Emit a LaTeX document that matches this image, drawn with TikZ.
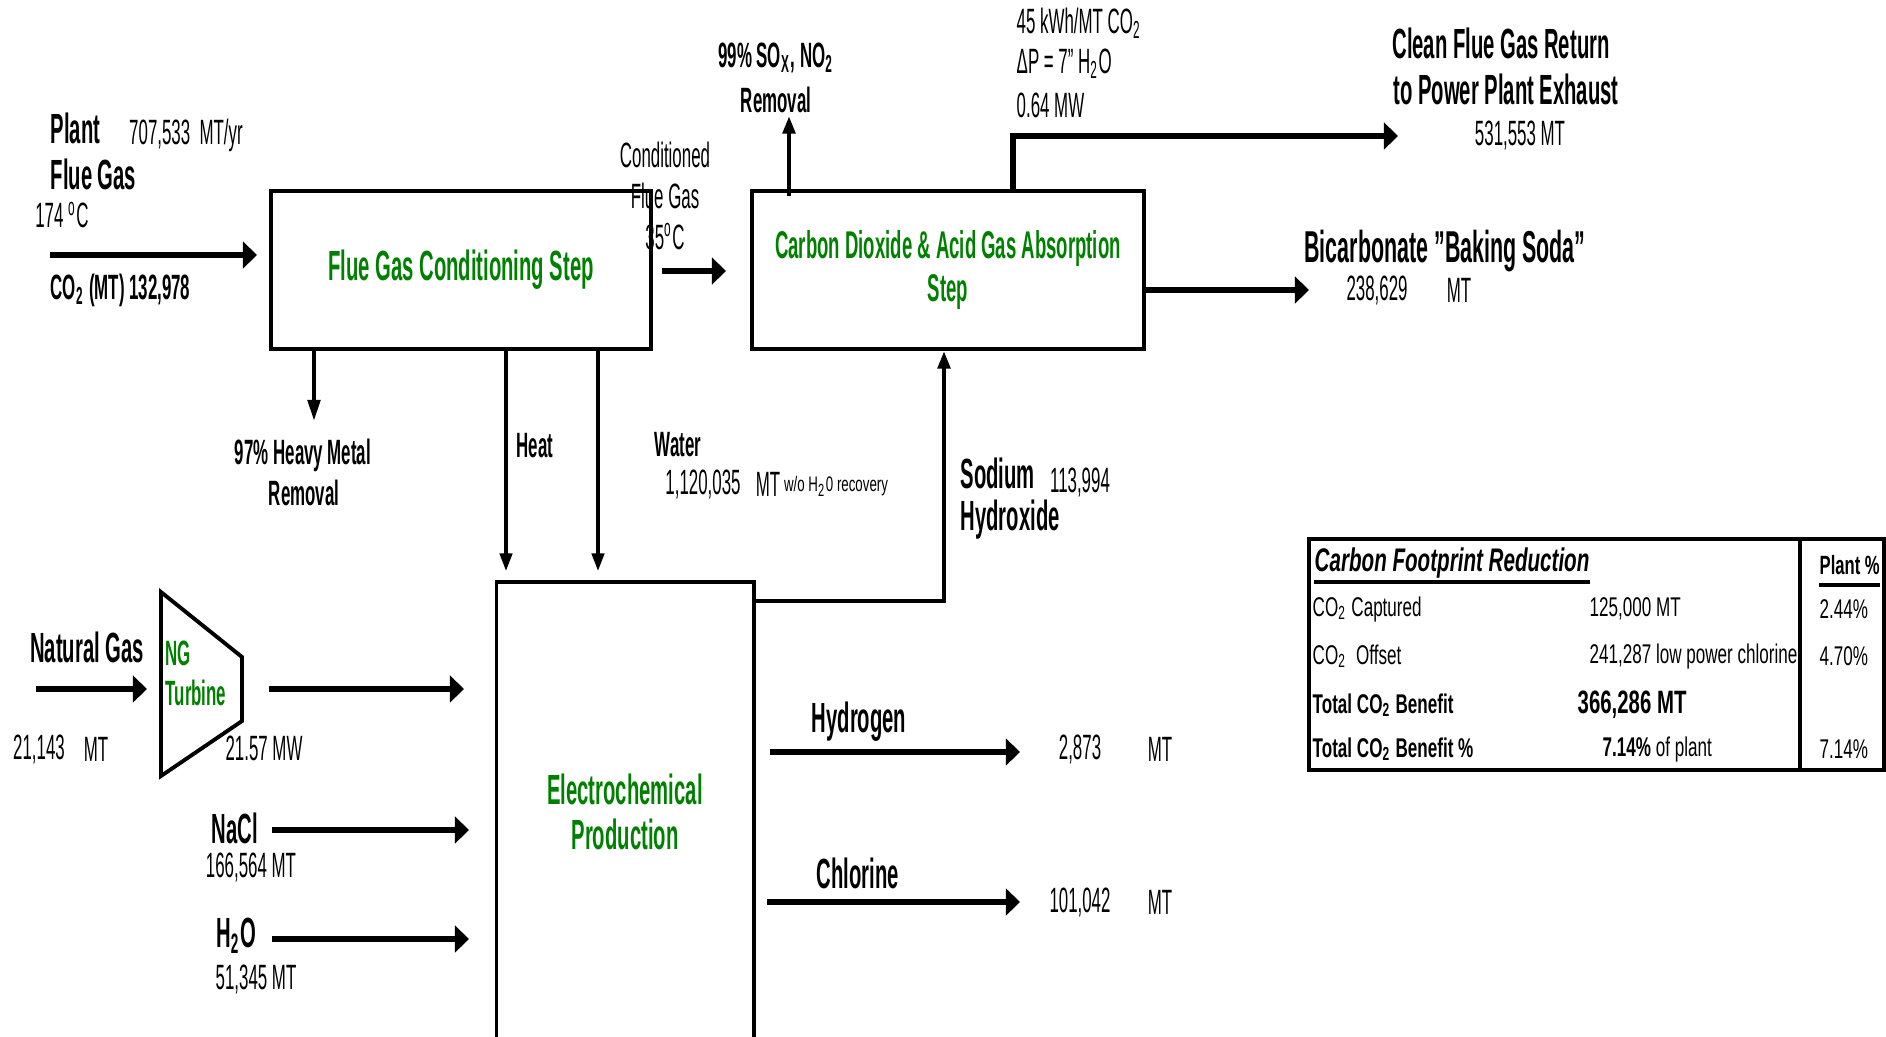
\documentclass[tikz,border=0pt]{standalone}
\usepackage{fontspec}
\setmainfont{Liberation Sans}[FakeStretch=0.48, Ligatures=ResetAll]
\newfontfamily\tabfont{Liberation Sans}[FakeStretch=0.63]
\usetikzlibrary{arrows.meta, positioning, calc}
\definecolor{stepgreen}{RGB}{0,128,0}
\newcommand{\dq}{\char34\relax}

\begin{document}
\begin{tikzpicture}[x=0.01cm, y=-0.01cm,
    stepbox/.style={draw, line width=1.1pt, inner sep=0pt, text=stepgreen, align=center},
    lbl/.style={inner sep=0pt, font=\fontsize{12}{14}\selectfont\bfseries},
    lblsm/.style={inner sep=0pt, font=\fontsize{10}{12}\selectfont\bfseries},
    num/.style={inner sep=0pt, font=\fontsize{10}{12}\selectfont},
    flow/.style={line width=1.8pt, -{Triangle[length=4pt,width=7.5pt]}},
    thinflow/.style={line width=1pt, -{Triangle[length=5pt,width=3.5pt]}},
    tab/.style={inner sep=0pt, anchor=west, font=\tabfont\fontsize{7.7}{9}\selectfont}]
\useasboundingbox (0,0) rectangle (1886,1036);

% process steps
\node[stepbox, minimum width=3.8cm, minimum height=1.58cm, font=\fontsize{12}{14}\selectfont\bfseries] (fgc) at (461,270) {Flue Gas Conditioning Step};
\node[stepbox, minimum width=3.91cm, minimum height=1.58cm, font=\fontsize{11}{12}\selectfont\bfseries] (absorb) at (948,270) {Carbon Dioxide \& Acid Gas Absorption\\Step};
\node[stepbox, minimum width=2.57cm, minimum height=4.6cm, font=\fontsize{12}{12.8}\selectfont\bfseries] (electro) at (625,812) {Electrochemical\\Production};

% turbine
\coordinate (tb1) at (161,592);
\coordinate (tb2) at (242,657);
\coordinate (tb3) at (242,721);
\coordinate (tb4) at (161,776);
\draw[line width=1.1pt] (tb1) -- (tb2) -- (tb3) -- (tb4) -- cycle;
\node[inner sep=0pt, anchor=west, align=left, text=stepgreen, font=\fontsize{10}{11.4}\selectfont\bfseries] (ngturb) at (165,673) {NG\\Turbine};

% plant flue gas in
\node[lbl, anchor=west] (plant) at (50,128) {Plant};
\node[num] (plantrate) at (186,135) {707,533\ \ MT/yr};
\node[lbl, anchor=west] (fluegas) at (50,174) {Flue Gas};
\node[num] (planttemp) at (62,215) {174 \textsuperscript{o}C};
\node[lblsm, anchor=west] (plantco2) at (50,290) {CO\textsubscript{2} (MT) 132,978};
\coordinate (plantstart) at (50,255);
\coordinate (plantend) at (257,255);
\draw[flow] (plantstart) -- (plantend);

% conditioned gas
\node[num, align=center, font=\fontsize{10}{11.7}\selectfont] (condgas) at (665,196) {Conditioned\\Flue Gas\\35\textsuperscript{o}C};
\coordinate (condstart) at (662,271);
\coordinate (condend) at (726,271);
\draw[flow] (condstart) -- (condend);

% acid gas removal
\node[lblsm] (sox) at (776,58) {99\% SO\textsubscript{X}, NO\textsubscript{2}};
\node[lblsm] (soxrem) at (776,100) {Removal};
\coordinate (soxstart) at (789,196);
\coordinate (soxend) at (789,116);
\draw[thinflow, line width=1.2pt] (soxstart) -- (soxend);

% absorber data
\node[num, anchor=west] (kwh) at (1016,23) {45 kWh/MT CO\textsubscript{2}};
\node[num, anchor=west] (dp) at (1016,64) {ΔP = 7\dq{} H\textsubscript{2}O};
\node[num, anchor=west] (mw) at (1016,105) {0.64 MW};

% clean flue gas out
\coordinate (cleanup) at (1013,136);
\coordinate (cleanend) at (1398,136);
\draw[flow] (absorb.north -| cleanup) -- (cleanup) -- (cleanend);
\node[lbl] (clean1) at (1501,43) {Clean Flue Gas Return};
\node[lbl] (clean2) at (1506,89) {to Power Plant Exhaust};
\node[num] (cleanmt) at (1520,135) {531,553 MT};

% bicarbonate out
\coordinate (bicend) at (1309,290);
\draw[flow] (absorb.east |- bicend) -- (bicend);
\node[lbl, font=\fontsize{12.7}{15}\selectfont\bfseries] (bicarb) at (1445,251) {Bicarbonate \dq{}Baking Soda\dq};
\node[num] (bicmt) at (1377,290) {238,629};
\node[num] (bicunit) at (1459,290) {MT};

% heavy metal, heat, water
\coordinate (hmend) at (314,421);
\draw[thinflow, line width=1.2pt, -{Triangle[length=6pt,width=3.5pt]}] (fgc.south -| hmend) -- (hmend);
\node[lblsm] (hm1) at (303,455) {97\% Heavy Metal};
\node[lblsm] (hm2) at (304,493) {Removal};
\coordinate (heatend) at (506,571);
\draw[thinflow] (fgc.south -| heatend) -- (heatend);
\node[lblsm] (heat) at (535,446) {Heat};
\coordinate (waterend) at (598,571);
\draw[thinflow] (fgc.south -| waterend) -- (waterend);
\node[lblsm] (water) at (678,445) {Water};
\node[num] (watermt) at (703,484) {1,120,035};
\node[num] (waterunit) at (768,484) {MT};
\node[inner sep=0pt, font=\tabfont\fontsize{6}{7}\selectfont] (waternote) at (836,486) {w/o H\textsubscript{2}0 recovery};

% sodium hydroxide back to absorber
\coordinate (naohbend) at (944,601);
\draw[thinflow, line width=1.2pt] (electro.east |- naohbend) -- (naohbend) -- (absorb.south -| naohbend);
\node[lbl, anchor=west] (sodium) at (960,473) {Sodium};
\node[num] (naohmt) at (1080,482) {113,994};
\node[lbl, anchor=west] (hydrox) at (960,520) {Hydroxide};

% electrochemical inputs
\node[lbl] (natgas) at (87,647) {Natural Gas};
\coordinate (ngstart) at (36,689);
\coordinate (ngend) at (147,689);
\draw[flow] (ngstart) -- (ngend);
\node[num] (ngmt) at (39,749) {21,143};
\node[num] (ngunit) at (96,749) {MT};
\node[num] (turbmw) at (264,748) {21.57 MW};
\coordinate (tbout1) at (269,689);
\coordinate (tbout2) at (464,689);
\draw[flow] (tbout1) -- (tbout2);
\node[lbl] (nacl) at (235,828) {NaCl};
\node[num] (naclmt) at (251,867) {166,564 MT};
\coordinate (naclstart) at (272,830);
\coordinate (naclend) at (469,830);
\draw[flow] (naclstart) -- (naclend);
\node[lbl] (h2o) at (236,936) {H\textsubscript{2}O};
\node[num] (h2omt) at (256,979) {51,345 MT};
\coordinate (h2ostart) at (272,939);
\coordinate (h2oend) at (469,939);
\draw[flow] (h2ostart) -- (h2oend);

% electrochemical products
\node[lbl] (hydrogen) at (859,722) {Hydrogen};
\coordinate (h2start) at (770,752);
\coordinate (h2end) at (1020,752);
\draw[flow] (h2start) -- (h2end);
\node[num] (h2mt) at (1080,749) {2,873};
\node[num] (h2unit) at (1160,749) {MT};
\node[lbl] (chlorine) at (858,873) {Chlorine};
\coordinate (cl2start) at (767,902);
\coordinate (cl2end) at (1020,902);
\draw[flow] (cl2start) -- (cl2end);
\node[num] (cl2mt) at (1080,902) {101,042};
\node[num] (cl2unit) at (1160,902) {MT};

% footprint table
\draw[line width=1pt] (1309,539) rectangle (1884,770);
\draw[line width=1pt] (1800,539) -- (1800,770);
\node[tab, font=\tabfont\fontsize{9.3}{11}\selectfont\bfseries\itshape] (cfr) at (1314,563) {Carbon Footprint Reduction};
\node[tab, font=\tabfont\fontsize{7.5}{9}\selectfont\bfseries] (plantpct) at (1819,565) {Plant \%};
\draw[line width=1pt] ([yshift=-3pt]cfr.base west) -- ([yshift=-3pt]cfr.base east);
\draw[line width=1pt] ([yshift=-3pt]plantpct.base west) -- ([yshift=-3pt]plantpct.base east);
\node[tab] (capt) at (1312,609) {CO\textsubscript{2} Captured};
\node[tab] (captmt) at (1589,609) {125,000 MT};
\node[tab] (captpct) at (1819,609) {2.44\%};
\node[tab] (offs) at (1312,656) {CO\textsubscript{2}\ \ Offset};
\node[tab] (offsmt) at (1589,656) {241,287 low power chlorine};
\node[tab] (offspct) at (1819,656) {4.70\%};
\node[tab, font=\tabfont\fontsize{7.7}{9}\selectfont\bfseries] (tot) at (1312,705) {Total CO\textsubscript{2} Benefit};
\node[tab, font=\tabfont\fontsize{9.2}{11}\selectfont\bfseries] (totmt) at (1577,705) {366,286 MT};
\node[tab, font=\tabfont\fontsize{7.7}{9}\selectfont\bfseries] (totp) at (1312,749) {Total CO\textsubscript{2} Benefit \%};
\node[tab] (totpmt) at (1602,749) {\textbf{7.14\%} of plant};
\node[tab] (totppct) at (1819,749) {7.14\%};
\end{tikzpicture}
\end{document}
